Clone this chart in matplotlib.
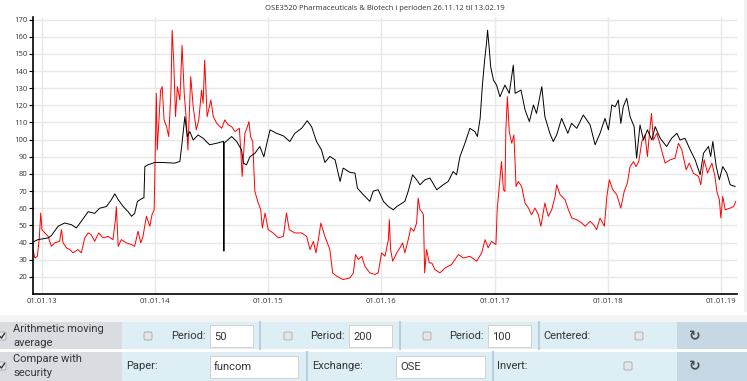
import matplotlib
matplotlib.use('Agg')
import matplotlib.pyplot as plt
import matplotlib.dates as mdates
from matplotlib.patches import Rectangle, FancyBboxPatch
import pandas as pd

# Dager siden 01.01.13 og verdier lest av bildet
indeks_dager = [-29, -13, 20, 30, 52, 73, 95, 111, 127, 149, 170, 186, 208, 224, 235, 246,
                262, 278, 289, 299, 308, 326, 329, 332, 342, 364, 385, 428, 445, 452, 461,
                469, 477, 488, 504, 520, 541, 564, 583, 586, 587, 588, 612, 628, 644, 650,
                660, 671, 687, 703, 716, 727, 736, 757, 779, 800, 816, 838, 856, 870, 886,
                902, 913, 929, 946, 962, 972, 994, 1010, 1018, 1037, 1058, 1069, 1085, 1102,
                1118, 1134, 1145, 1171, 1182, 1196, 1209, 1220, 1236, 1252, 1274, 1295, 1311,
                1327, 1338, 1349, 1365, 1381, 1397, 1405, 1414, 1421, 1428, 1435, 1438, 1443,
                1448, 1457, 1467, 1478, 1494, 1508, 1521, 1527, 1546, 1559, 1573, 1586, 1596,
                1613, 1623, 1639, 1650, 1661, 1677, 1697, 1709, 1726, 1747, 1769, 1785, 1801,
                1817, 1828, 1839, 1850, 1860, 1868, 1876, 1887, 1898, 1911, 1919, 1930, 1941,
                1954, 1968, 1979, 1995, 2016, 2032, 2049, 2059, 2075, 2092, 2108, 2124, 2135,
                2151, 2158, 2165, 2176, 2186, 2197, 2210, 2221, 2237]
indeks_verdi = [40.3, 41.7, 42.7, 44.0, 49.5, 51.4, 50.4, 48.5, 52.4, 58.0, 57.0, 60.0, 61.0,
                65.0, 68.4, 65.0, 61.0, 58.0, 55.3, 57.0, 64.0, 66.0, 66.0, 84.3, 85.3, 86.7,
                86.7, 86.3, 87.3, 98.0, 113.4, 101.8, 104.7, 99.8, 102.7, 100.8, 97.0, 97.9,
                98.9, 99.0, 35.0, 98.0, 101.8, 99.0, 94.0, 86.3, 85.3, 90.0, 92.0, 96.0, 90.0,
                98.9, 105.7, 103.7, 102.2, 98.9, 103.7, 106.6, 111.0, 107.6, 98.9, 94.0, 86.7,
                90.2, 88.2, 75.6, 83.4, 80.9, 80.5, 71.7, 67.9, 64.0, 70.0, 70.8, 64.0, 61.0,
                59.1, 61.0, 64.0, 70.0, 79.5, 76.6, 73.7, 76.6, 77.6, 70.8, 73.7, 75.6, 81.4,
                79.5, 90.2, 97.9, 106.6, 104.7, 101.8, 112.4, 130.9, 145.4, 157.0, 163.8, 154.0,
                142.5, 134.7, 131.8, 125.0, 131.8, 127.0, 143.4, 127.0, 128.9, 117.3, 110.5,
                120.2, 115.3, 130.9, 113.4, 103.7, 98.9, 102.7, 112.4, 103.7, 109.5, 106.6,
                114.4, 108.6, 97.0, 103.7, 112.4, 105.7, 120.2, 119.2, 123.1, 109.5, 119.2,
                124.1, 113.4, 107.6, 89.2, 108.6, 99.8, 105.7, 99.8, 107.6, 100.8, 96.0, 100.8,
                103.7, 99.8, 100.8, 94.0, 88.2, 79.5, 92.1, 96.0, 90.2, 98.9, 84.3, 76.6, 84.3,
                80.5, 73.7, 72.7]

funcom_dager = [-29, -23, -15, -9, -4, 0, 9, 20, 30, 41, 57, 63, 68, 79, 90, 100, 116, 127,
                138, 149, 159, 170, 183, 197, 213, 229, 237, 240, 246, 256, 272, 289, 299, 310,
                319, 326, 337, 348, 355, 362, 366, 369, 372, 378, 383, 388, 394, 402, 409, 416,
                420, 425, 431, 437, 445, 452, 459, 465, 471, 480, 488, 498, 506, 515, 520, 525,
                533, 545, 553, 564, 580, 590, 601, 612, 623, 637, 642, 646, 655, 663, 668, 673,
                680, 687, 698, 706, 711, 720, 730, 746, 763, 779, 789, 798, 816, 838, 854, 865,
                876, 884, 892, 900, 913, 929, 938, 951, 972, 994, 1005, 1012, 1021, 1032, 1042,
                1058, 1075, 1085, 1096, 1107, 1118, 1121, 1125, 1132, 1145, 1155, 1164, 1171,
                1182, 1190, 1200, 1209, 1214, 1220, 1225, 1231, 1235, 1241, 1250, 1258, 1268,
                1284, 1301, 1322, 1344, 1360, 1381, 1403, 1419, 1430, 1440, 1451, 1465, 1469,
                1478, 1483, 1489, 1494, 1497, 1502, 1508, 1516, 1523, 1530, 1537, 1548, 1559,
                1570, 1580, 1591, 1602, 1610, 1623, 1634, 1645, 1656, 1661, 1672, 1688, 1699,
                1710, 1726, 1742, 1753, 1769, 1780, 1790, 1801, 1815, 1823, 1831, 1842, 1855,
                1868, 1879, 1889, 1898, 1909, 1917, 1926, 1936, 1946, 1954, 1960, 1967, 1973,
                1984, 1995, 2011, 2027, 2043, 2054, 2065, 2079, 2089, 2102, 2119, 2126, 2137,
                2148, 2162, 2172, 2178, 2186, 2191, 2197, 2205, 2221, 2232, 2239]
funcom_verdi = [35.9, 31.0, 32.0, 41.7, 57.2, 47.5, 45.6, 43.6, 37.8, 39.8, 40.7, 47.5, 39.8,
                36.9, 35.9, 34.0, 35.9, 34.0, 42.7, 45.6, 44.6, 40.7, 45.6, 42.7, 43.6, 41.7,
                53.3, 61.0, 37.8, 41.7, 39.8, 38.8, 37.8, 46.6, 39.8, 43.6, 55.3, 49.5, 56.2,
                59.1, 97.9, 127.0, 94.0, 113.4, 128.9, 130.9, 111.5, 107.6, 101.8, 127.0, 163.8,
                146.4, 113.4, 130.9, 123.1, 155.0, 127.0, 113.4, 94.0, 136.7, 119.2, 105.7,
                111.5, 128.9, 121.2, 146.4, 113.4, 123.1, 113.4, 109.5, 106.6, 111.5, 108.6,
                107.6, 104.7, 106.6, 92.1, 78.5, 103.7, 107.6, 110.5, 101.8, 98.9, 69.8, 63.0,
                59.1, 48.5, 57.2, 47.5, 45.6, 42.7, 43.6, 57.2, 47.5, 45.6, 45.6, 43.6, 35.9,
                40.7, 34.0, 41.7, 51.4, 43.6, 35.9, 22.3, 20.4, 18.4, 19.4, 22.3, 33.0, 30.1,
                32.0, 26.2, 22.3, 21.4, 22.3, 34.0, 32.0, 41.7, 53.3, 35.9, 29.1, 34.0, 36.9,
                39.8, 34.0, 41.7, 48.5, 46.6, 51.4, 65.9, 59.1, 58.2, 56.2, 22.3, 35.9, 28.1,
                28.1, 24.3, 22.3, 25.2, 27.2, 33.0, 31.0, 32.0, 29.1, 34.0, 41.7, 36.9, 40.7,
                38.8, 59.1, 77.6, 87.2, 70.8, 69.8, 105.7, 125.0, 104.7, 97.9, 102.7, 72.7,
                75.6, 72.7, 63.0, 60.1, 56.2, 60.1, 56.2, 49.5, 63.0, 55.3, 59.1, 66.9, 73.7,
                67.9, 65.0, 59.1, 54.3, 53.3, 51.4, 49.5, 52.4, 50.4, 47.5, 54.3, 49.5, 66.9,
                76.6, 70.8, 67.9, 60.1, 69.8, 74.6, 84.3, 87.2, 84.3, 87.2, 98.9, 102.7, 90.2,
                102.7, 115.3, 99.8, 103.7, 97.0, 86.3, 88.2, 89.2, 97.9, 94.0, 82.4, 86.3, 80.5,
                78.5, 73.7, 88.2, 80.5, 86.3, 78.5, 69.8, 65.0, 54.3, 66.9, 59.1, 60.1, 61.0,
                64.0]

aar = ['2013', '2014', '2015', '2016', '2017', '2018', '2019']
y_ticks = [20, 30, 40, 50, 60, 70, 80, 90, 100, 110, 120, 130, 140, 150, 160, 170]
tittel = 'OSE3520 Pharmaceuticals & Biotech i perioden 26.11.12 til 13.02.19'

start = pd.Timestamp('2013-01-01')
x_indeks = start + pd.to_timedelta(indeks_dager, unit='D')
x_funcom = start + pd.to_timedelta(funcom_dager, unit='D')

W, H = 747, 381
fig = plt.figure(figsize=(W / 100, H / 100), dpi=100)

# Selve grafen
ax = fig.add_axes([33 / W, 1 - 294 / H, 704 / W, 277 / H])
ax.plot(x_funcom, funcom_verdi, color='#ff0000', linewidth=0.7)
ax.plot(x_indeks, indeks_verdi, color='#000000', linewidth=0.7)

ax.set_xlim(start + pd.Timedelta(days=-29), start + pd.Timedelta(days=2243))
ax.set_ylim(10, 171.5)
ax.set_yticks(y_ticks)
ax.set_xticks([pd.Timestamp(a + '-01-01') for a in aar])
ax.xaxis.set_major_formatter(mdates.DateFormatter('%d.%m.%y'))
ax.grid(True, color='#e8e8e8', linewidth=1)
ax.set_axisbelow(True)
for s in ['top', 'right']:
    ax.spines[s].set_visible(False)
for s in ['left', 'bottom']:
    ax.spines[s].set_linewidth(1.2)
ax.tick_params(axis='y', length=3, width=0.8, pad=1, labelsize=5.5, labelcolor='#333333')
ax.tick_params(axis='x', length=0, pad=3, labelsize=5.5, labelcolor='#333333')
for lbl in ax.get_xticklabels() + ax.get_yticklabels():
    lbl.set_family('Open Sans')
ax.set_title(tittel, fontsize=5.5, color='#333333', family='Open Sans', pad=5)

# Panel med innstillinger under grafen
pan = fig.add_axes([0, 0, 1, 1], zorder=-1)
pan.set_xlim(0, W)
pan.set_ylim(H, 0)
pan.axis('off')

pan.add_patch(Rectangle((744, 0), 3, 312, color='#f1f1f1', lw=0))
pan.add_patch(Rectangle((0, 315), W, 7, color='#f3f4f6', lw=0))
for y0, y1 in [(322, 349), (352, 381)]:
    pan.add_patch(Rectangle((0, y0), 122, y1 - y0, color='#d9dde2', lw=0))
    pan.add_patch(Rectangle((122, y0), 555, y1 - y0, color='#ddeef5', lw=0))
    pan.add_patch(Rectangle((677, y0), 70, y1 - y0, color='#c6d8e4', lw=0))
for xs in [260, 400, 539]:
    pan.plot([xs, xs], [322, 349], color='#b8d0de', lw=1.5)
for xs in [307, 493]:
    pan.plot([xs, xs], [352, 381], color='#b8d0de', lw=1.5)

txt = dict(family='Roboto', fontsize=8, color='#333333', va='center')


def boks(x0, y0, x1, y1, tekst):
    pan.add_patch(Rectangle((x0, y0), x1 - x0, y1 - y0, facecolor='white',
                            edgecolor='#cccccc', lw=0.6))
    pan.text(x0 + 4, (y0 + y1) / 2 + 0.5, tekst, **txt)


def avkryss(xc, yc, krysset=False):
    pan.add_patch(FancyBboxPatch((xc - 3.5, yc - 3.5), 7, 7,
                                 boxstyle='round,pad=0.5,rounding_size=1.5',
                                 facecolor='#e6e6e6', edgecolor='#a8a8a8', lw=0.6))
    if krysset:
        pan.plot([xc - 2.5, xc - 0.5, xc + 2.5], [yc, yc + 2, yc - 2.5],
                 color='#333333', lw=1.0)


# rad 1
avkryss(2, 336, True)
pan.text(13, 329, 'Arithmetic moving', **txt)
pan.text(13, 343, 'average', **txt)
avkryss(148, 336)
pan.text(171, 336, 'Period:', **txt)
boks(210, 325, 253, 347, '50')
avkryss(288, 336)
pan.text(310, 336, 'Period:', **txt)
boks(349, 325, 392, 347, '200')
avkryss(427, 336)
pan.text(449, 336, 'Period:', **txt)
boks(488, 325, 531, 347, '100')
pan.text(543, 336, 'Centered:', **txt)
avkryss(639, 336)
pan.text(695, 336, '↻', family='DejaVu Sans', fontsize=10, fontweight='bold',
         color='#4a4a4a', ha='center', va='center')

# rad 2
avkryss(2, 366, True)
pan.text(13, 359, 'Compare with', **txt)
pan.text(13, 373, 'security', **txt)
pan.text(126, 366, 'Paper:', **txt)
boks(210, 356, 298, 378, 'funcom')
pan.text(312, 366, 'Exchange:', **txt)
boks(396, 356, 485, 378, 'OSE')
pan.text(497, 366, 'Invert:', **txt)
avkryss(628, 366)
pan.text(695, 366, '↻', family='DejaVu Sans', fontsize=10, fontweight='bold',
         color='#4a4a4a', ha='center', va='center')

plt.savefig('out.png', dpi=100)
plt.close()
